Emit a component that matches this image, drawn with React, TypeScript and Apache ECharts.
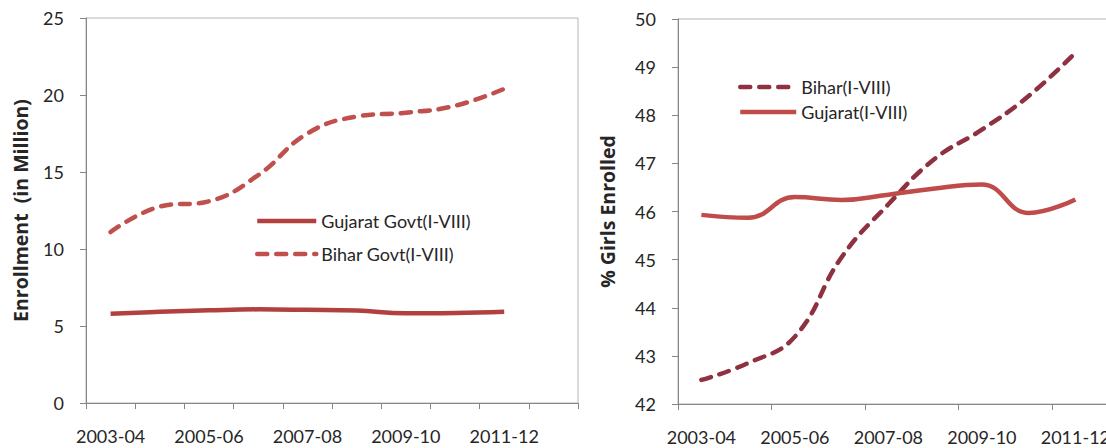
import React, { useEffect, useRef } from "react";
import * as echarts from "echarts";

const categories = [
  "2003-04", "2004-05", "2005-06", "2006-07", "2007-08",
  "2008-09", "2009-10", "2010-11", "2011-12", "2012-13",
];
const enrollGujarat = [5.8, 5.92, 6.02, 6.08, 6.05, 6.0, 5.82, 5.85, 5.93];
const enrollBihar = [11.1, 12.75, 13.1, 14.8, 17.5, 18.6, 18.85, 19.3, 20.4];
const girlsBihar = [42.5, 42.85, 43.4, 45.05, 46.15, 47.1, 47.7, 48.4, 49.3];
const girlsGujarat = [45.93, 45.87, 46.3, 46.24, 46.35, 46.48, 46.56, 45.97, 46.25];

const FONT = "Lato";
const TXT = "#262626";
const AXIS = "#868686";

export default function App() {
  const ref = useRef<HTMLDivElement>(null);
  useEffect(() => {
    if (!ref.current) return;
    const chart = echarts.init(ref.current, undefined, { renderer: "svg" });
    const axisLabel = { color: TXT, fontFamily: FONT, fontSize: 18 };
    const xAxisBase = (gridIndex: number, tickInterval: number) => ({
      type: "category",
      gridIndex,
      data: categories,
      boundaryGap: true,
      axisLine: { lineStyle: { color: AXIS, width: 1 } },
      axisTick: { show: true, inside: false, length: 6, interval: tickInterval, lineStyle: { color: AXIS } },
      axisLabel: { ...axisLabel, interval: 1, margin: 24 },
      splitLine: { show: false },
    });
    const yAxisBase = (gridIndex: number, min: number, max: number, interval: number, name: string, gap: number) => ({
      type: "value",
      gridIndex,
      min,
      max,
      interval,
      name,
      nameLocation: "middle",
      nameRotate: 90,
      nameGap: gap,
      nameTextStyle: { color: TXT, fontFamily: "Open Sans", fontSize: 19.5, fontWeight: "bold" },
      axisLine: { show: true, lineStyle: { color: AXIS, width: 1 } },
      axisTick: { show: true, inside: false, length: 6, lineStyle: { color: AXIS } },
      axisLabel: { ...axisLabel, margin: 22 },
      splitLine: { show: false },
    });
    const lineSeries = (name: string, data: number[], x: number, color: string, dashed: boolean) => ({
      type: "line",
      name,
      xAxisIndex: x,
      yAxisIndex: x,
      data,
      smooth: 0.45,
      symbol: "none",
      lineStyle: {
        color,
        width: 4.5,
        type: dashed ? [10, 9] : "solid",
        cap: dashed ? "round" : "butt",
      },
      itemStyle: { color },
    });
    const legendBase = {
      orient: "vertical",
      padding: 0,
      itemHeight: 14,
      itemStyle: { opacity: 0 },
      lineStyle: { width: 4.5 },
      textStyle: { color: TXT, fontFamily: FONT, fontSize: 18, lineHeight: 20 },
    };
    chart.setOption({
      animation: false,
      backgroundColor: "#ffffff",
      grid: [
        { left: 86, top: 18, width: 492, height: 385, show: true, borderColor: "#b4b4b4", borderWidth: 1, containLabel: false },
        { left: 678, top: 19, width: 467.5, height: 385, show: true, borderColor: "#b4b4b4", borderWidth: 1, containLabel: false },
      ],
      xAxis: [xAxisBase(0, 0), xAxisBase(1, 1)],
      yAxis: [
        yAxisBase(0, 0, 25, 5, "Enrollment  (in Million)", 56),
        yAxisBase(1, 42, 50, 1, "% Girls Enrolled", 61),
      ],
      legend: [
        {
          ...legendBase,
          left: 255,
          top: 211,
          itemGap: 13,
          itemWidth: 59,
          data: ["Gujarat Govt(I-VIII)", "Bihar Govt(I-VIII)"],
        },
        {
          ...legendBase,
          left: 738,
          top: 77,
          itemGap: 5,
          itemWidth: 56,
          data: ["Bihar(I-VIII)", "Gujarat(I-VIII)"],
        },
      ],
      series: [
        lineSeries("Gujarat Govt(I-VIII)", enrollGujarat, 0, "#b2403f", false),
        lineSeries("Bihar Govt(I-VIII)", enrollBihar, 0, "#c0504d", true),
        lineSeries("Bihar(I-VIII)", girlsBihar, 1, "#8e3140", true),
        lineSeries("Gujarat(I-VIII)", girlsGujarat, 1, "#bf4c4a", false),
      ],
    });
    return () => chart.dispose();
  }, []);
  return (
    <div style={{ position: "absolute", left: 0, top: 0, width: 1106, height: 448, overflow: "hidden", background: "#fff" }}>
      <div ref={ref} style={{ position: "absolute", left: 0, top: 0, width: 1170, height: 448 }} />
    </div>
  );
}
